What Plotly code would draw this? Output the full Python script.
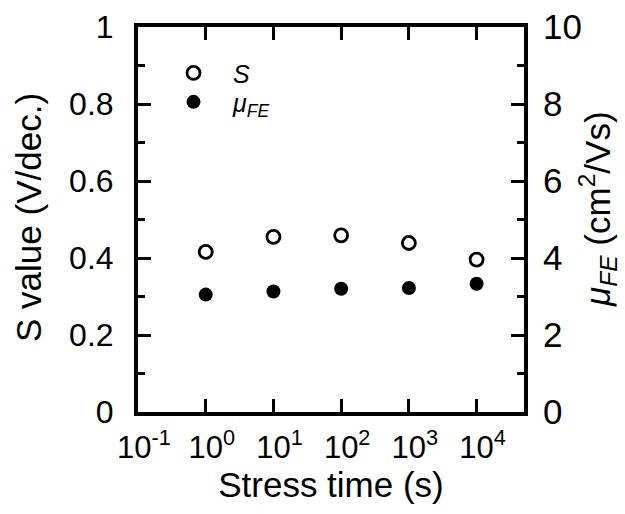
import plotly.graph_objects as go

# Stress time (s) and measured values
stress_time = [1, 10, 100, 1000, 10000]
s_value = [0.416, 0.455, 0.459, 0.439, 0.396]       # V/dec.
mu_fe = [3.05, 3.13, 3.20, 3.22, 3.33]              # cm^2/Vs

x_tick_vals = [0.1, 1, 10, 100, 1000, 10000]
x_tick_text = ["10<sup>-1</sup>", "10<sup>0</sup>", "10<sup>1</sup>",
               "10<sup>2</sup>", "10<sup>3</sup>", "10<sup>4</sup>"]

y_title = "S value (V/dec.)"
y2_title = "<i>μ</i><sub><i>FE</i></sub> (cm<sup>2</sup>/Vs)"

FONT = "Liberation Sans, Arial, sans-serif"

fig = go.Figure()
fig.add_trace(go.Scatter(
    x=stress_time, y=s_value, mode="markers", name="<i>S</i>",
    marker=dict(symbol="circle-open", size=13, color="black",
                line=dict(width=2.8, color="black")),
    yaxis="y", legend="legend",
))
fig.add_trace(go.Scatter(
    x=stress_time, y=mu_fe, mode="markers",
    name="<i>μ</i><sub><i>FE</i></sub>",
    marker=dict(symbol="circle", size=14, color="black"),
    yaxis="y2", legend="legend2",
))

axis_common = dict(
    showline=True, linecolor="black", linewidth=4,
    ticks="inside", tickcolor="black", tickwidth=3, ticklen=13,
    showgrid=False, zeroline=False, automargin=False,
)

legend_common = dict(
    xanchor="left", yanchor="middle", bgcolor="rgba(0,0,0,0)",
    font=dict(size=25), itemwidth=69,
)

fig.update_layout(
    width=625, height=514,
    margin=dict(l=138, r=101, t=27, b=102),
    paper_bgcolor="white", plot_bgcolor="white",
    font=dict(family=FONT, color="black", size=30),
    showlegend=True,
    legend=dict(x=0.0415, y=0.88, **legend_common),
    legend2=dict(x=0.0415, y=0.805, **legend_common),
    xaxis=dict(
        type="log", range=[-1, 4.7],
        tickvals=x_tick_vals, ticktext=x_tick_text,
        mirror="ticks", ticklabelstandoff=5, ticklabelshift=6,
        tickfont=dict(size=31),
        title=dict(text="Stress time (s)", font=dict(size=35), standoff=2),
        **axis_common,
    ),
    yaxis=dict(
        range=[0, 1], dtick=0.2, tickfont=dict(size=32),
        ticklabelstandoff=14,
        minor=dict(dtick=0.1, ticks="inside", ticklen=7, tickwidth=3,
                   tickcolor="black"),
        **axis_common,
    ),
    yaxis2=dict(
        range=[0, 10], dtick=2, overlaying="y", side="right",
        tickfont=dict(size=35), ticklabelstandoff=8,
        minor=dict(dtick=1, ticks="inside", ticklen=7, tickwidth=3,
                   tickcolor="black"),
        **axis_common,
    ),
    annotations=[
        dict(text=y_title, textangle=-90, xref="paper", yref="paper",
             x=0, y=0.504, xshift=-109, xanchor="center", yanchor="middle",
             showarrow=False, font=dict(size=35)),
        dict(text=y2_title, textangle=-90, xref="paper", yref="paper",
             x=1, y=0.525, xshift=74, xanchor="center", yanchor="middle",
             showarrow=False, font=dict(size=35)),
    ],
)

fig.write_html("out.html")
